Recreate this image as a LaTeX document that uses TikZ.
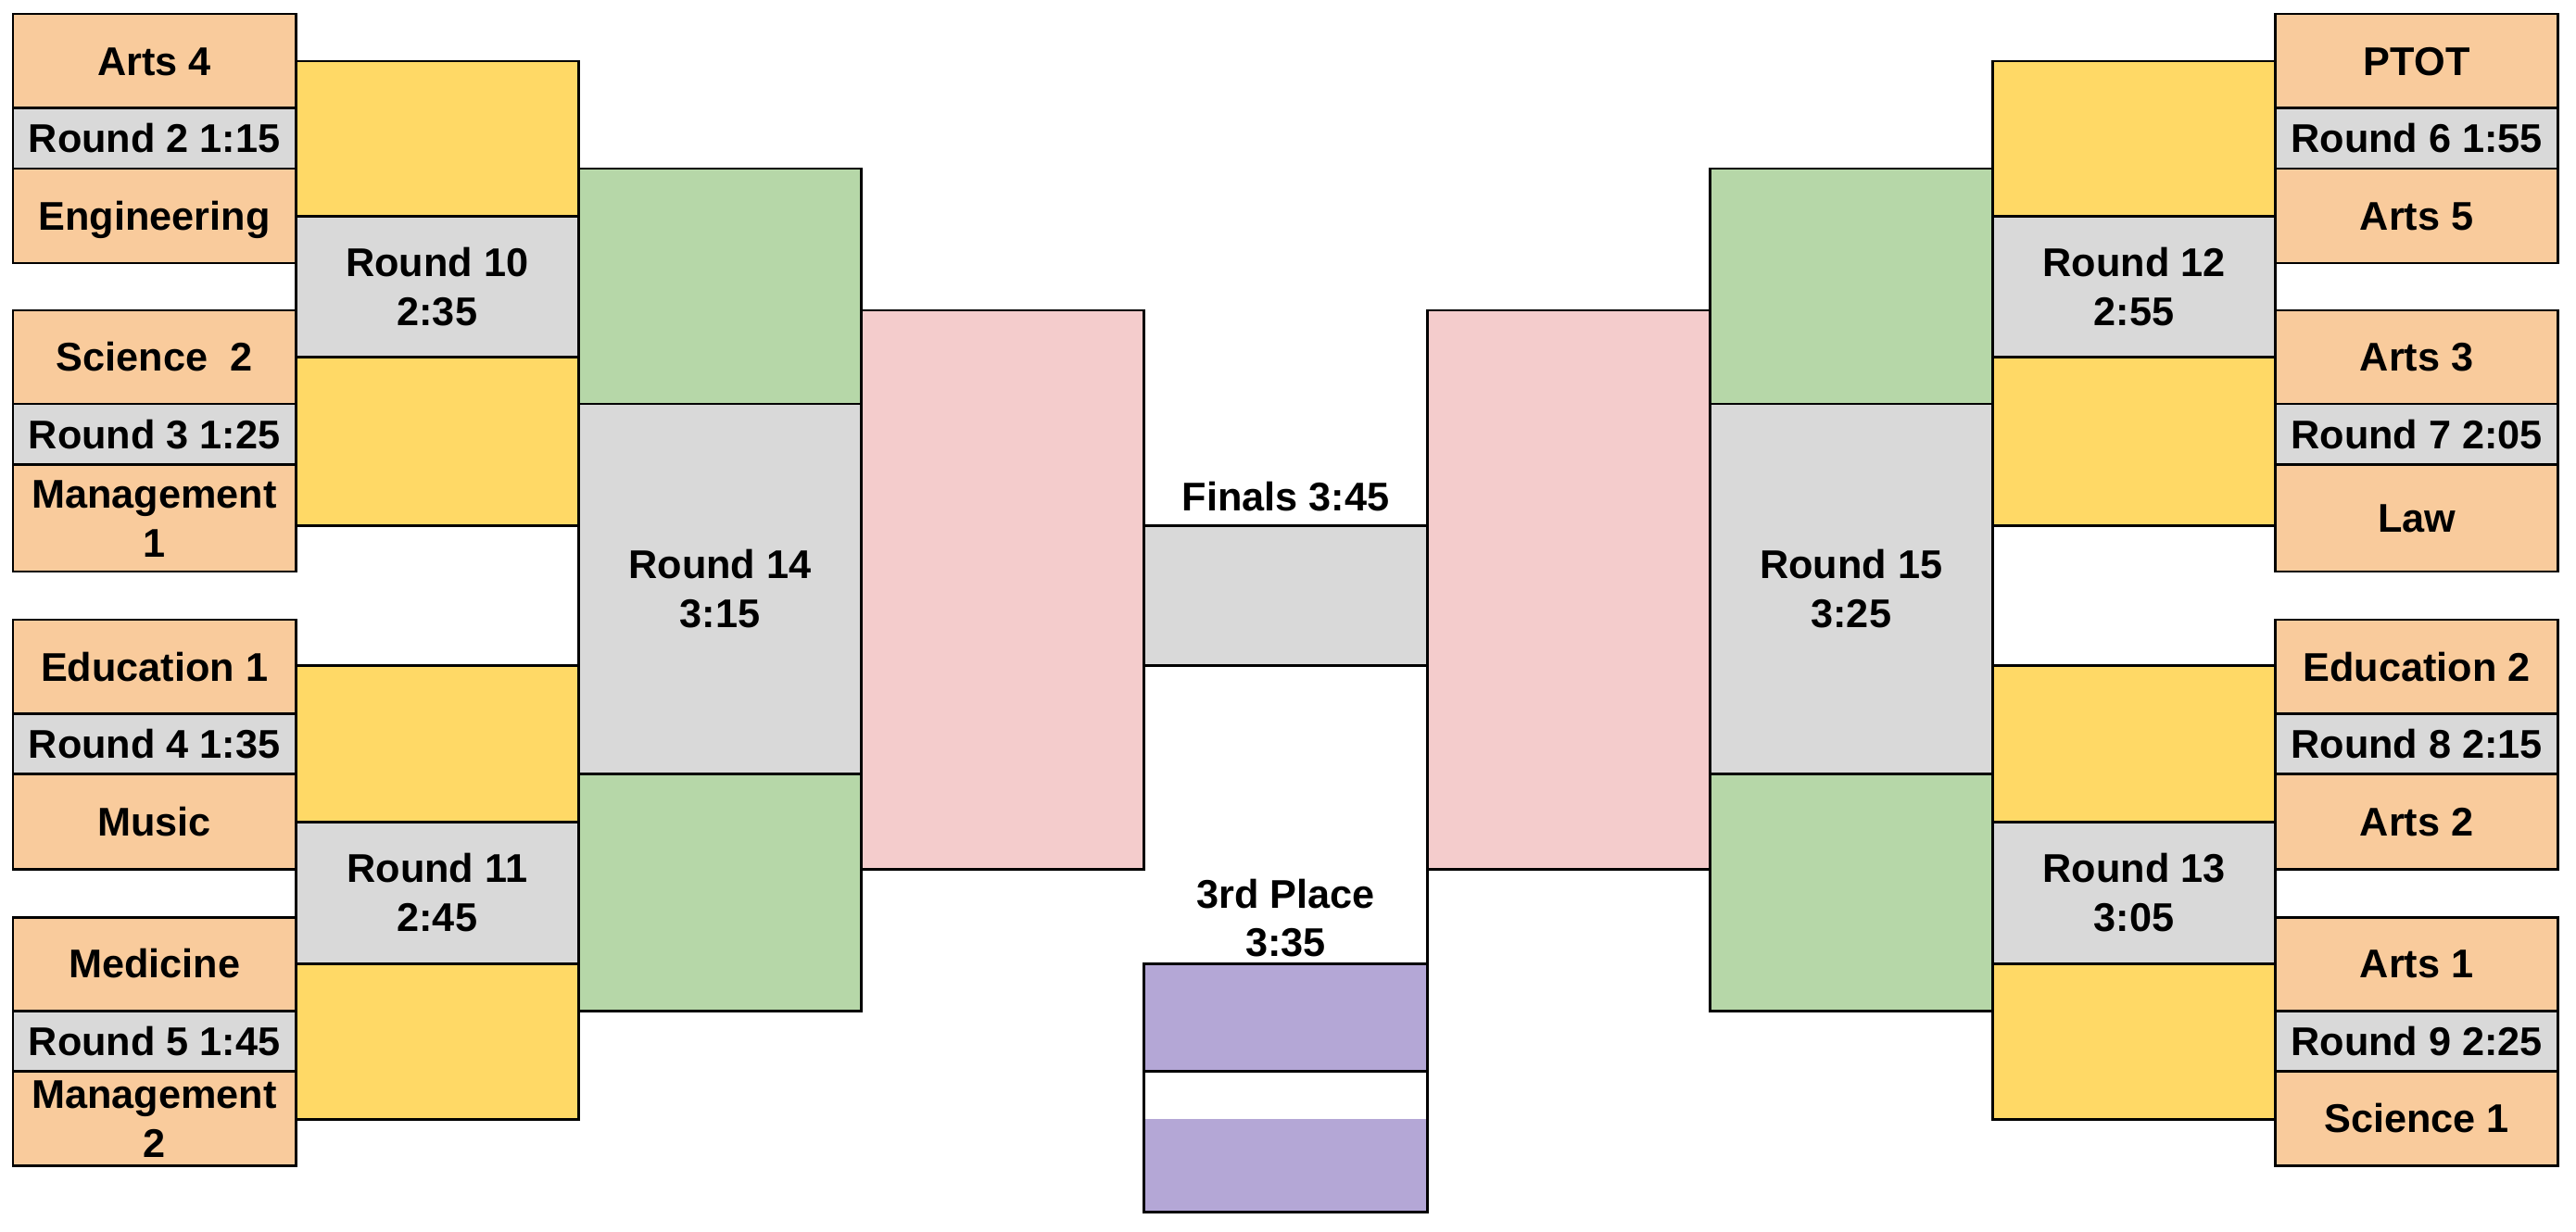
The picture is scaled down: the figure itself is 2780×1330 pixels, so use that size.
\documentclass[tikz,border=0pt]{standalone}
\usepackage{fontspec}
\setmainfont{Liberation Sans}
\definecolor{teamorange}{HTML}{F9CB9C}
\definecolor{slotgrey}{HTML}{D9D9D9}
\definecolor{qfyellow}{HTML}{FFD966}
\definecolor{sfgreen}{HTML}{B6D7A8}
\definecolor{finpink}{HTML}{F4CCCC}
\definecolor{thirdpurple}{HTML}{B4A7D6}

\begin{document}
\begin{tikzpicture}[x=0.01cm, y=-0.01cm, line width=0.85pt,
  team/.style={draw, fill=teamorange},
  slot/.style={draw, fill=slotgrey},
  qf/.style={draw, fill=qfyellow},
  sf/.style={draw, fill=sfgreen},
  fin/.style={draw, fill=finpink},
  third/.style={draw, fill=thirdpurple},
  txt/.style={font=\fontsize{12.3}{15}\selectfont\bfseries, align=center,
    inner sep=0pt, text height=8.8pt, text depth=0pt}]
\useasboundingbox (0,0) rectangle (2780,1330);
\draw[team] (14,15) rectangle (319.2,116.5);
\draw[slot] (14,116.5) rectangle (319.2,182);
\draw[team] (14,182) rectangle (319.2,284);
\draw[team] (14,335) rectangle (319.2,436);
\draw[slot] (14,436) rectangle (319.2,501.5);
\draw[team] (14,501.5) rectangle (319.2,617);
\draw[team] (14,669) rectangle (319.2,770.5);
\draw[slot] (14,770.5) rectangle (319.2,835.5);
\draw[team] (14,835.5) rectangle (319.2,938.5);
\draw[team] (14,990) rectangle (319.2,1091);
\draw[slot] (14,1091) rectangle (319.2,1156.5);
\draw[team] (14,1156.5) rectangle (319.2,1258.5);
\draw[qf] (319.2,66) rectangle (624.4,233.5);
\draw[slot] (319.2,233.5) rectangle (624.4,385.5);
\draw[qf] (319.2,385.5) rectangle (624.4,567.5);
\draw[qf] (319.2,718.5) rectangle (624.4,887);
\draw[slot] (319.2,887) rectangle (624.4,1040.5);
\draw[qf] (319.2,1040.5) rectangle (624.4,1208);
\draw[sf] (624.4,182) rectangle (929.6,436);
\draw[slot] (624.4,436) rectangle (929.6,835.5);
\draw[sf] (624.4,835.5) rectangle (929.6,1091);
\draw[fin] (929.6,335) rectangle (1234.8,938.5);
\draw[slot] (1234.8,567.5) rectangle (1540,718.5);
\draw[third] (1234.8,1040.5) rectangle (1540,1156.5);
\fill[thirdpurple] (1234.8,1208) rectangle (1540,1308.5);
\draw (1234.8,1156.5) -- (1234.8,1308.5) -- (1540,1308.5) -- (1540,938.5);
\draw[fin] (1540,335) rectangle (1845.2,938.5);
\draw[sf] (1845.2,182) rectangle (2150.4,436);
\draw[slot] (1845.2,436) rectangle (2150.4,835.5);
\draw[sf] (1845.2,835.5) rectangle (2150.4,1091);
\draw[qf] (2150.4,66) rectangle (2455.6,233.5);
\draw[slot] (2150.4,233.5) rectangle (2455.6,385.5);
\draw[qf] (2150.4,385.5) rectangle (2455.6,567.5);
\draw[qf] (2150.4,718.5) rectangle (2455.6,887);
\draw[slot] (2150.4,887) rectangle (2455.6,1040.5);
\draw[qf] (2150.4,1040.5) rectangle (2455.6,1208);
\draw[team] (2455.6,15) rectangle (2760.8,116.5);
\draw[slot] (2455.6,116.5) rectangle (2760.8,182);
\draw[team] (2455.6,182) rectangle (2760.8,284);
\draw[team] (2455.6,335) rectangle (2760.8,436);
\draw[slot] (2455.6,436) rectangle (2760.8,501.5);
\draw[team] (2455.6,501.5) rectangle (2760.8,617);
\draw[team] (2455.6,669) rectangle (2760.8,770.5);
\draw[slot] (2455.6,770.5) rectangle (2760.8,835.5);
\draw[team] (2455.6,835.5) rectangle (2760.8,938.5);
\draw[team] (2455.6,990) rectangle (2760.8,1091);
\draw[slot] (2455.6,1091) rectangle (2760.8,1156.5);
\draw[team] (2455.6,1156.5) rectangle (2760.8,1258.5);

\node[txt] (arts4) at (166.6,65.75) {Arts 4};
\node[txt] (r2) at (166.6,149.25) {Round 2 1:15};
\node[txt] (eng) at (166.6,233) {Engineering};
\node[txt] (sci2) at (166.6,385.5) {Science\ \ 2};
\node[txt] (r3) at (166.6,468.75) {Round 3 1:25};
\node[txt] (mgmt1) at (166.6,586) {Management\\1};
\node[txt] (edu1) at (166.6,719.75) {Education 1};
\node[txt] (r4) at (166.6,803) {Round 4 1:35};
\node[txt] (music) at (166.6,887) {Music};
\node[txt] (med) at (166.6,1040.5) {Medicine};
\node[txt] (r5) at (166.6,1123.75) {Round 5 1:45};
\node[txt] (mgmt2) at (166.6,1234) {Management\\2};
\node[txt] (r10) at (471.8,336) {Round 10\\2:35};
\node[txt] (r11) at (471.8,990.25) {Round 11\\2:45};
\node[txt] (r14) at (777,662.25) {Round 14\\3:15};
\node[txt] (finals) at (1387.4,536.5) {Finals 3:45};
\node[txt] (third) at (1387.4,1017.5) {3rd Place\\3:35};
\node[txt] (r15) at (1997.8,662.25) {Round 15\\3:25};
\node[txt] (r12) at (2303,336) {Round 12\\2:55};
\node[txt] (r13) at (2303,990.25) {Round 13\\3:05};
\node[txt] (ptot) at (2608.2,65.75) {PTOT};
\node[txt] (r6) at (2608.2,149.25) {Round 6 1:55};
\node[txt] (arts5) at (2608.2,233) {Arts 5};
\node[txt] (arts3) at (2608.2,385.5) {Arts 3};
\node[txt] (r7) at (2608.2,468.75) {Round 7 2:05};
\node[txt] (law) at (2608.2,559.25) {Law};
\node[txt] (edu2) at (2608.2,719.75) {Education 2};
\node[txt] (r8) at (2608.2,803) {Round 8 2:15};
\node[txt] (arts2) at (2608.2,887) {Arts 2};
\node[txt] (arts1) at (2608.2,1040.5) {Arts 1};
\node[txt] (r9) at (2608.2,1123.75) {Round 9 2:25};
\node[txt] (sci1) at (2608.2,1207.5) {Science 1};
\end{tikzpicture}
\end{document}
